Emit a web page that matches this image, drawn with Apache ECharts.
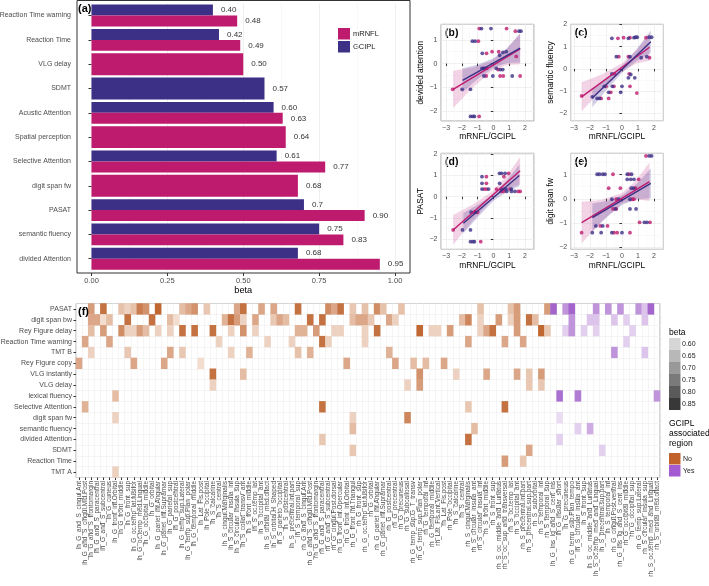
<!DOCTYPE html>
<html>
<head>
<meta charset="utf-8">
<script src="https://cdn.jsdelivr.net/npm/echarts@6.0.0/dist/echarts.min.js"></script>
<style>
  html, body { margin: 0; padding: 0; background: #fff; }
  #chart { width: 709px; height: 586px; }
</style>
</head>
<body>
<div id="chart"></div>
<script>
const FONT = '"Liberation Sans", Arial, sans-serif';
const C_MRNFL = '#be1a6e';
const C_GCIPL = '#3b2f86';
const AXIS_TXT = '#4d4d4d';

// ---- panel (a): beta per test ----
const tests = ['Reaction Time warning', 'Reaction Time', 'VLG delay', 'SDMT', 'Acustic Attention',
  'Spatial perception', 'Selective Attention', 'digit span fw', 'PASAT', 'semantic fluency', 'divided Attention'];
const betaGCIPL = [0.40, 0.42, null, 0.57, 0.60, null, 0.61, null, 0.70, 0.75, 0.68];
const betaMRNFL = [0.48, 0.49, 0.50, null, 0.63, 0.64, 0.77, 0.68, 0.90, 0.83, 0.95];
const labelGCIPL = ['0.40', '0.42', '', '0.57', '0.60', '', '0.61', '', '0.7', '0.75', '0.68'];
const labelMRNFL = ['0.48', '0.49', '0.50', '', '0.63', '0.64', '0.77', '0.68', '0.90', '0.83', '0.95'];
const betaTicks = [0, 0.25, 0.5, 0.75, 1];

// ---- panels (b)-(e): scatter points [x, y] ----
const ptsB_M = [[-2.58,-1.08],[-0.95,0.94],[-0.89,1.47],[0.84,1.47],[1.4,1.36],[-0.43,0.43],[-0.08,0.5],[0.34,0.5],[1.45,0.3],[-0.55,-0.2],[-0.42,-0.2],[0.3,-0.25],[-0.45,-0.52],[0.43,-0.52],[0.63,-0.52],[1.7,-0.52],[-0.9,-2.22]];
const ptsB_G = [[-1.98,-1.08],[-1.45,-1.08],[-1.33,0.94],[-1.16,0.94],[-0.75,1.47],[-0.15,1.47],[1.63,1.36],[1.75,1.36],[-0.7,0.43],[0.61,0.47],[0.82,0.5],[0.4,0.35],[-0.72,-0.2],[-0.6,-0.2],[0.19,-0.2],[0.45,-0.25],[0.6,-0.25],[-0.6,-0.52],[-0.03,-0.52],[1.2,-0.52],[-1.45,-2.22],[-1.3,-2.22],[-1.2,-2.22]];
const ptsC_M = [[-2.52,-1.21],[-1.3,-1.32],[-0.83,-1.32],[0.93,-1.08],[-1.0,-0.78],[-0.5,-0.78],[0.5,-0.78],[-0.47,-0.22],[0.45,-0.22],[-0.2,0.55],[0.4,0.55],[1.72,0.5],[-0.25,1.37],[0.1,1.4],[0.5,1.4],[1.5,1.4],[-0.7,-1.05]];
const ptsC_G = [[-1.85,-1.25],[-1.55,-1.32],[-1.4,-1.32],[-0.83,-1.05],[-1.1,-0.78],[-0.6,-0.78],[0.0,-0.78],[-0.08,-1.05],[-0.63,-0.22],[0.55,-0.25],[0.4,-0.4],[0.8,-0.4],[-0.35,0.55],[0.5,0.55],[1.2,0.5],[1.55,0.55],[-0.63,1.37],[0.4,1.37],[0.75,1.4],[0.85,1.42],[0.95,1.42],[1.7,1.42],[1.85,1.42]];
const ptsD_M = [[-2.55,-1.56],[-1.2,-0.73],[-1.0,-0.73],[-0.8,-2.11],[-0.44,0.94],[-0.44,0.63],[-0.58,0.36],[-0.44,0.36],[0.2,0.36],[0.65,0.36],[1.05,0.36],[0.67,0.94],[0.97,1.1],[0.5,0.25],[0.65,0.25],[1.58,0.25],[1.7,0.25]];
const ptsD_G = [[-1.96,-1.56],[-1.45,-1.56],[-1.4,-0.73],[-1.15,-0.73],[-1.45,-2.11],[-1.3,-2.11],[-1.2,-2.11],[-0.72,0.94],[-0.72,0.63],[-0.72,0.36],[-0.3,0.36],[0.5,0.36],[0.8,0.36],[1.15,0.36],[0.39,1.1],[0.53,1.1],[0.75,1.1],[0.4,0.63],[0.85,0.25],[1.15,0.25],[1.37,0.25]];
const ptsE_M = [[1.5,1.78],[-0.56,1.02],[0.45,1.02],[1.04,0.81],[-0.83,0.44],[-0.1,0.44],[0.85,0.44],[-0.35,-0.02],[0.65,-0.02],[0.75,-0.02],[-0.56,-0.42],[-0.35,-0.42],[1.1,-0.98],[1.75,-0.98],[-1.35,-1.13],[-0.9,-1.13],[-2.52,-1.41],[-0.5,-1.41],[-0.3,-1.41],[0.5,-1.41]];
const ptsE_G = [[1.7,1.78],[1.85,1.78],[-1.55,1.02],[-1.4,1.02],[-1.2,1.02],[-1.06,1.02],[0.33,1.02],[0.6,1.02],[0.33,0.81],[0.55,0.81],[0.75,0.81],[0.58,0.44],[0.72,0.44],[-0.63,-0.02],[-0.2,-0.02],[0.5,-0.02],[-0.41,-0.42],[0.5,-0.42],[0.88,-0.42],[1.4,-0.98],[1.56,-0.98],[-1.63,-1.13],[-1.2,-1.13],[-1.85,-1.41],[-1.3,-1.41],[-0.63,-1.41],[0.0,-1.41]];

// fitted lines (read endpoints) and confidence bands [x, lower, upper]
const lineB_M = [[-2.55,-1.08],[1.7,0.62]];
const lineB_G = [[-1.95,-0.70],[1.7,0.65]];
const bandB_M = [[-2.55,-1.86,-0.30],[-1.3,-1.0,-0.16],[-0.1,-0.32,0.12],[0.8,-0.07,0.59],[1.7,-0.03,1.27]];
const bandB_G = [[-1.95,-1.2,-0.2],[-1.0,-0.65,-0.05],[0,-0.18,0.22],[0.85,0.03,0.63],[1.7,0.05,1.25]];
const lineC_M = [[-2.52,-1.25],[1.72,0.97]];
const lineC_G = [[-1.85,-1.30],[1.8,1.22]];
const bandC_M = [[-2.52,-1.9,-0.6],[-1.3,-0.96,-0.26],[0,-0.11,0.25],[0.9,0.24,0.84],[1.72,0.37,1.57]];
const bandC_G = [[-1.85,-1.72,-0.88],[-0.9,-0.89,-0.39],[0.05,-0.135,0.165],[0.95,0.37,0.91],[1.8,0.72,1.72]];
const lineD_M = [[-2.55,-1.56],[1.7,1.22]];
const lineD_G = [[-1.9,-1.25],[1.65,1.0]];
const bandD_M = [[-2.55,-2.26,-0.86],[-1.3,-1.12,-0.36],[0,-0.06,0.28],[0.85,0.37,0.97],[1.7,0.57,1.87]];
const bandD_G = [[-1.9,-1.73,-0.77],[-0.95,-0.93,-0.37],[0,-0.2,0.12],[0.85,0.22,0.76],[1.65,0.5,1.5]];
const lineE_M = [[-2.52,-0.99],[1.72,0.71]];
const lineE_G = [[-1.85,-0.78],[1.8,0.64]];
const bandE_M = [[-2.52,-1.86,-0.12],[-1.3,-0.95,-0.05],[0,-0.2,0.24],[0.85,-0.02,0.74],[1.72,-0.09,1.51]];
const bandE_G = [[-1.85,-1.36,-0.2],[-0.9,-0.74,-0.08],[0.05,-0.24,0.16],[0.95,-0.02,0.64],[1.8,0.02,1.26]];

// ---- panel (f): heatmap ----
const heatRows = ['PASAT', 'digit span bw', 'Rey Figure delay', 'Reaction Time warning', 'TMT B', 'Rey Figure copy',
  'VLG instantly', 'VLG delay', 'lexical fluency', 'Selective Attention', 'digit span fw', 'semantic fluency',
  'divided Attention', 'SDMT', 'Reaction Time', 'TMT A'];
const regions = [
  'lh_G_and_S_cingul.Ant','lh_G_and_S_cingul.Mid.Post','lh_G_and_S_frontomargin','lh_G_and_S_paracentral','lh_G_and_S_subcentral','lh_G_cuneus','lh_G_front_inf.Orbital','lh_G_front_middle','lh_G_front_sup','lh_G_oc.temp_lat.fusifor','lh_G_oc.temp_med.Lingual','lh_G_occipital_middle','lh_G_orbital','lh_G_pariet_inf.Angular','lh_G_pariet_inf.Supramar','lh_G_parietal_sup','lh_G_postcentral','lh_G_temp_sup.Lateral','lh_G_temp_sup.Plan_polar','lh_G_temporal_middle','lh_Lat_Fis.post','lh_Pole_occipital','lh_S_calcarine','lh_S_central','lh_S_cingul.Marginalis','lh_S_circular_insula_inf','lh_S_circular_insula_sup','lh_S_collat_transv_ant','lh_S_front_middle','lh_S_oc.temp_lat','lh_S_occipital_ant','lh_S_orbital_med.olfact','lh_S_orbital.H_Shaped','lh_S_parieto_occipital','lh_S_postcentral','lh_S_precentral.inf.part','lh_S_temporal_sup',
  'rh_G_and_S_cingul.Ant','rh_G_and_S_cingul.Mid.Post','rh_G_and_S_frontomargin','rh_G_and_S_paracentral','rh_G_and_S_subcentral','rh_G_cingul.Post.dorsal','rh_G_front_inf.Opercular','rh_G_front_inf.Orbital','rh_G_front_inf.Triangul','rh_G_front_sup','rh_G_oc.temp_lat.fusifor','rh_G_orbital','rh_G_pariet_inf.Angular','rh_G_pariet_inf.Supramar','rh_G_postcentral','rh_G_precentral','rh_G_precuneus','rh_G_subcallosal','rh_G_temp_sup.G_T_transv','rh_G_temp_sup.Plan_polar','rh_G_temporal_inf','rh_G_temporal_middle','rh_Lat_Fis.ant.Vertical','rh_Lat_Fis.post','rh_Pole_occipital','rh_S_calcarine','rh_S_central','rh_S_cingul.Marginalis','rh_S_circular_insula_ant','rh_S_circular_insula_inf','rh_S_front_middle','rh_S_front_sup','rh_S_oc_middle_and_Lunatus','rh_S_oc_sup_and_transversal','rh_S_oc.temp_lat','rh_S_occipital_ant','rh_S_precentral.inf.part','rh_S_precentral.sup.part','rh_S_suborbital','rh_S_temporal_inf','rh_S_temporal_sup',
  'lh_G_Ins_lg_and_S_cent_ins','lh_G_insular_short','lh_G_precuneus','rh_G_temp_sup.Plan_tempo','lh_S_circular_insula_ant','lh_S_front_sup','lh_S_oc_middle_and_Lunatus','lh_S_oc.temp_med_and_Lingual','lh_S_precentral.sup.part','lh_S_temporal_inf','rh_G_cingul.Post.ventral','rh_G_Ins_lg_and_S_cent_ins','rh_G_occipital_middle','rh_G_occipital_sup','rh_G_temp_sup.Lateral','rh_S_circular_insula_sup','rh_S_oc.temp_med_and_Lingual','rh_S_orbital_med.olfact'
];
// [column, row, beta]
const cellsNo = [
  [2,0,.72],[4,0,.8],[7,0,.65],[8,0,.62],[9,0,.65],[10,0,.78],[11,0,.74],[13,0,.82],[17,0,.66],[18,0,.7],[19,0,.74],[21,0,.64],[26,0,.7],[27,0,.8],[30,0,.7],[32,0,.7],[36,0,.8],[41,0,.75],[42,0,.7],[43,0,.8],[45,0,.64],[47,0,.65],[49,0,.75],[50,0,.65],[53,0,.65],[66,0,.65],[71,0,.65],[72,0,.72],[77,0,.72],
  [2,1,.7],[3,1,.7],[4,1,.6],[5,1,.66],[8,1,.8],[12,1,.8],[15,1,.66],[16,1,.6],[24,1,.68],[25,1,.8],[26,1,.72],[27,1,.62],[29,1,.7],[32,1,.64],[33,1,.7],[34,1,.66],[38,1,.8],[40,1,.8],[45,1,.66],[46,1,.7],[47,1,.7],[48,1,.64],[51,1,.7],[52,1,.62],[63,1,.66],[64,1,.76],[66,1,.62],[69,1,.72],[71,1,.62],[72,1,.72],[74,1,.8],[75,1,.66],
  [2,2,.66],[4,2,.72],[7,2,.75],[8,2,.62],[9,2,.62],[10,2,.72],[11,2,.66],[13,2,.62],[15,2,.62],[17,2,.8],[19,2,.8],[22,2,.8],[25,2,.62],[27,2,.74],[29,2,.62],[36,2,.68],[37,2,.68],[39,2,.72],[42,2,.62],[43,2,.62],[47,2,.62],[49,2,.8],[56,2,.82],[58,2,.62],[59,2,.62],[61,2,.72],[66,2,.62],[67,2,.7],[68,2,.8],[72,2,.72],[76,2,.82],[77,2,.64],
  [1,3,.7],[5,3,.7],[23,3,.62],[31,3,.62],[35,3,.62],[40,3,.8],[41,3,.62],[47,3,.62],[64,3,.7],[70,3,.7],[73,3,.7],
  [2,4,.62],[8,4,.64],[15,4,.7],[17,4,.64],[25,4,.62],[28,4,.68],[36,4,.65],[38,4,.68],[51,4,.68],
  [0,5,.7],[9,5,.7],[14,5,.7],[20,5,.6],[44,5,.7],[52,5,.7],[55,5,.66],[57,5,.66],[60,5,.7],
  [22,6,.8],[27,6,.66],[56,6,.74],[62,6,.62],[67,6,.7],[72,6,.7],[74,6,.64],[76,6,.72],
  [22,7,.62],[54,7,.62],[56,7,.72],[74,7,.64],[76,7,.64],
  [6,8,.66],
  [1,9,.68],[40,9,.8],[64,9,.64],[70,9,.8],
  [6,10,.62],[45,10,.62],[54,10,.76],
  [45,11,.66],[65,11,.66],
  [40,12,.64],[64,12,.8],
  [45,13,.64],[74,13,.7],
  [70,14,.72],[73,14,.64],
  [6,15,.62]
];
const cellsYes = [
  [78,0,.8],[80,0,.72],[81,0,.8],[85,0,.72],[87,0,.72],[89,0,.72],[92,0,.72],[93,0,.64],[94,0,.8],
  [81,1,.72],[84,1,.64],[85,1,.64],[88,1,.64],[90,1,.62],[93,1,.64],
  [80,2,.62],[81,2,.72],[83,2,.62],[85,2,.62],[91,2,.62],
  [90,3,.62],
  [88,4,.72],[93,4,.64],
  [79,8,.78],[82,8,.76],[95,8,.72],
  [79,10,.6],
  [82,11,.62],[84,11,.68],
  [79,12,.62],
  [86,13,.62]
];
const betaLegend = ['0.60', '0.65', '0.70', '0.75', '0.80', '0.85'];
const betaLegendGray = ['#d6d6d6', '#b8b8b8', '#999999', '#7a7a7a', '#5a5a5a', '#383838'];

// ---- layout ----
const scatterPanels = [
  { tag: '(b)', yName: 'devided attention', left: 441, top: 24.3, w: 93, h: 96.7, x: [-3.32, 2.58], y: [-2.41, 1.65], pM: ptsB_M, pG: ptsB_G, lM: lineB_M, lG: lineB_G, bM: bandB_M, bG: bandB_G },
  { tag: '(c)', yName: 'semantic fluency', left: 570.7, top: 24.3, w: 92.6, h: 96.4, x: [-3.2, 2.58], y: [-2.32, 2.0], pM: ptsC_M, pG: ptsC_G, lM: lineC_M, lG: lineC_G, bM: bandC_M, bG: bandC_G },
  { tag: '(d)', yName: 'PASAT', left: 441, top: 153.3, w: 93, h: 96, x: [-3.32, 2.58], y: [-2.47, 2.04], pM: ptsD_M, pG: ptsD_G, lM: lineD_M, lG: lineD_G, bM: bandD_M, bG: bandD_G },
  { tag: '(e)', yName: 'digit span fw', left: 570.7, top: 153.3, w: 92.6, h: 96, x: [-3.2, 2.58], y: [-2.1, 1.89], pM: ptsE_M, pG: ptsE_G, lM: lineE_M, lG: lineE_G, bM: bandE_M, bG: bandE_G }
];

const grids = [], xAxes = [], yAxes = [], series = [], graphics = [];
const txt = (size, color) => ({ fontFamily: FONT, fontSize: size, color: color || AXIS_TXT });

// panel (a)
grids.push({ left: 91.5, top: 3.4, width: 303.5, height: 267.5, outerBoundsMode: 'none' });
xAxes.push({
  gridIndex: 0, type: 'value', min: 0, max: 1, interval: 0.25, offset: 2.1,
  name: 'beta', nameLocation: 'middle', nameGap: 13, nameTextStyle: txt(9.2, '#000'),
  axisLine: { show: false },
  axisTick: { show: true, length: 3, lineStyle: { color: '#333' } },
  axisLabel: Object.assign(txt(7.5), { margin: 4, formatter: v => betaTicks.includes(v) ? v.toFixed(2) : '' }),
  splitLine: { show: true, lineStyle: { color: '#ebebeb', width: 0.8 } },
  minorTick: { show: false, splitNumber: 2 },
  minorSplitLine: { show: true, lineStyle: { color: '#f4f4f4', width: 0.6 } }
});
yAxes.push({
  gridIndex: 0, type: 'category', data: tests, inverse: true, offset: 14.5,
  axisLine: { show: false },
  axisTick: { show: true, length: 3, alignWithLabel: true, lineStyle: { color: '#333' } },
  axisLabel: Object.assign(txt(7), { margin: 6, interval: 0 }),
  splitLine: { show: false }
});

function barRender(labels, color, upper) {
  return function (params, api) {
    const v = api.value(0), cat = api.value(1);
    const paired = betaGCIPL[cat] != null && betaMRNFL[cat] != null;
    const p0 = api.coord([0, cat]);
    const p1 = api.coord([v, cat]);
    const band = api.size([0, 1])[1] * 0.9;
    const h = paired ? band / 2 : band;
    const y0 = paired ? (upper ? p0[1] - band / 2 : p0[1]) : p0[1] - band / 2;
    return {
      type: 'group',
      children: [
        { type: 'rect', shape: { x: p0[0], y: y0, width: p1[0] - p0[0], height: h }, style: { fill: color } },
        { type: 'text', x: p1[0] + 8, y: y0 + h / 2,
          style: { text: labels[cat], fill: '#333', font: '8px ' + FONT, verticalAlign: 'middle', align: 'left' } }
      ]
    };
  };
}
series.push({
  type: 'custom', name: 'GCIPL', xAxisIndex: 0, yAxisIndex: 0, silent: true,
  encode: { x: 0, y: 1 },
  data: betaGCIPL.map((v, i) => v == null ? null : [v, i]).filter(d => d),
  renderItem: barRender(labelGCIPL, C_GCIPL, true)
});
series.push({
  type: 'custom', name: 'mRNFL', xAxisIndex: 0, yAxisIndex: 0, silent: true,
  encode: { x: 0, y: 1 },
  data: betaMRNFL.map((v, i) => v == null ? null : [v, i]).filter(d => d),
  renderItem: barRender(labelMRNFL, C_MRNFL, false)
});

// scatter panels
function bandRender(band, fill) {
  return function (params, api) {
    const up = band.map(b => api.coord([b[0], b[2]]));
    const lo = band.slice().reverse().map(b => api.coord([b[0], b[1]]));
    return { type: 'polygon', shape: { points: up.concat(lo) }, style: { fill: fill } };
  };
}
const minus = v => String(v).replace('-', '\u2212');
scatterPanels.forEach((p, k) => {
  const gi = k + 1;
  grids.push({ left: p.left, top: p.top, width: p.w, height: p.h, show: true, borderColor: '#8c8c8c', borderWidth: 0.8, backgroundColor: 'transparent', outerBoundsMode: 'none' });
  xAxes.push({
    gridIndex: gi, type: 'value', min: p.x[0], max: p.x[1], splitNumber: 5,
    name: 'mRNFL/GCIPL', nameLocation: 'middle', nameGap: 12, nameTextStyle: txt(8.4, '#000'),
    axisLine: { show: false },
    axisTick: { show: true, length: 2.5, lineStyle: { color: '#333' } },
    axisLabel: Object.assign(txt(7), { margin: 3.5, showMinLabel: false, showMaxLabel: false, formatter: minus }),
    splitLine: { show: true, lineStyle: { color: '#e8e8e8', width: 0.6 } },
    minorTick: { show: false, splitNumber: 2 },
    minorSplitLine: { show: true, lineStyle: { color: '#f4f4f4', width: 0.5 } }
  });
  yAxes.push({
    gridIndex: gi, type: 'value', min: p.y[0], max: p.y[1], splitNumber: 4,
    name: p.yName, nameLocation: 'middle', nameGap: 16, nameRotate: 90, nameTextStyle: txt(8.4, '#000'),
    axisLine: { show: false },
    axisTick: { show: true, length: 2.5, lineStyle: { color: '#333' } },
    axisLabel: Object.assign(txt(7), { margin: 3.5, showMinLabel: false, showMaxLabel: p.y[1] === 2.0, formatter: minus }),
    splitLine: { show: true, lineStyle: { color: '#e8e8e8', width: 0.6 } },
    minorTick: { show: false, splitNumber: 2 },
    minorSplitLine: { show: true, lineStyle: { color: '#f4f4f4', width: 0.5 } }
  });
  series.push({ type: 'custom', xAxisIndex: gi, yAxisIndex: gi, clip: true, silent: true, data: [[0, 0]], renderItem: bandRender(p.bM, 'rgba(196, 60, 140, 0.22)') });
  series.push({ type: 'custom', xAxisIndex: gi, yAxisIndex: gi, clip: true, silent: true, data: [[0, 0]], renderItem: bandRender(p.bG, 'rgba(80, 60, 150, 0.25)') });
  series.push({ type: 'scatter', xAxisIndex: gi, yAxisIndex: gi, data: p.pM, symbolSize: 3.8, itemStyle: { color: C_MRNFL }, silent: true });
  series.push({ type: 'scatter', xAxisIndex: gi, yAxisIndex: gi, data: p.pG, symbolSize: 3.8, itemStyle: { color: C_GCIPL }, silent: true });
  series.push({ type: 'line', xAxisIndex: gi, yAxisIndex: gi, data: p.lM, showSymbol: false, lineStyle: { color: C_MRNFL, width: 1.4 }, silent: true });
  series.push({ type: 'line', xAxisIndex: gi, yAxisIndex: gi, data: p.lG, showSymbol: false, lineStyle: { color: C_GCIPL, width: 1.4 }, silent: true });
  graphics.push({ type: 'text', x: p.left + 4, y: p.top + 9, style: { text: p.tag, font: 'bold 10.5px ' + FONT, fill: '#000', verticalAlign: 'middle' } });
});

// panel (f) heatmap
grids.push({ left: 76, top: 303.5, width: 584, height: 174, show: true, borderColor: '#999', borderWidth: 0.8, backgroundColor: 'transparent', outerBoundsMode: 'none' });
xAxes.push({
  gridIndex: 5, type: 'category', data: regions,
  axisLine: { show: false },
  axisTick: { show: true, length: 2.5, alignWithLabel: true, interval: 0, lineStyle: { color: '#333' } },
  axisLabel: Object.assign(txt(6.5), { rotate: 90, interval: 0, margin: 3.5 }),
  splitLine: { show: true, interval: 0, lineStyle: { color: '#eeeeee', width: 0.6 } }
});
yAxes.push({
  gridIndex: 5, type: 'category', data: heatRows, inverse: true,
  axisLine: { show: false },
  axisTick: { show: true, length: 2.5, alignWithLabel: true, interval: 0, lineStyle: { color: '#333' } },
  axisLabel: Object.assign(txt(7), { interval: 0, margin: 4 }),
  splitLine: { show: true, interval: 0, lineStyle: { color: '#eeeeee', width: 0.6 } }
});
const heatNoIndex = series.length;
series.push({ type: 'heatmap', xAxisIndex: 5, yAxisIndex: 5, data: cellsNo, silent: true, itemStyle: { borderWidth: 0 } });
const heatYesIndex = series.length;
series.push({ type: 'heatmap', xAxisIndex: 5, yAxisIndex: 5, data: cellsYes, silent: true, itemStyle: { borderWidth: 0 } });

// static annotations: panel (a) frame/legend, tags, heatmap legends
graphics.push({ type: 'rect', shape: { x: 77, y: 0.5, width: 333, height: 272.5 }, style: { fill: 'none', stroke: '#333', lineWidth: 1 }, z: 10 });
graphics.push({ type: 'text', x: 78, y: 8.5, style: { text: '(a)', font: 'bold 11px ' + FONT, fill: '#000', verticalAlign: 'middle' }, z: 10 });
graphics.push({ type: 'rect', shape: { x: 338, y: 28, width: 12, height: 11.5 }, style: { fill: C_MRNFL } });
graphics.push({ type: 'rect', shape: { x: 338, y: 41, width: 12, height: 11.5 }, style: { fill: C_GCIPL } });
graphics.push({ type: 'text', x: 353, y: 33.8, style: { text: 'mRNFL', font: '7.5px ' + FONT, fill: '#222', verticalAlign: 'middle' } });
graphics.push({ type: 'text', x: 353, y: 46.8, style: { text: 'GCIPL', font: '7.5px ' + FONT, fill: '#222', verticalAlign: 'middle' } });
graphics.push({ type: 'text', x: 78, y: 311.5, style: { text: '(f)', font: 'bold 11px ' + FONT, fill: '#000', verticalAlign: 'middle' }, z: 10 });

graphics.push({ type: 'text', x: 669, y: 332.5, style: { text: 'beta', font: '8.5px ' + FONT, fill: '#000', verticalAlign: 'middle' } });
betaLegend.forEach((lab, i) => {
  graphics.push({ type: 'rect', shape: { x: 669, y: 338 + i * 12, width: 11.5, height: 12 }, style: { fill: betaLegendGray[i] } });
  graphics.push({ type: 'text', x: 682, y: 344 + i * 12, style: { text: lab, font: '7px ' + FONT, fill: '#222', verticalAlign: 'middle' } });
});
['GCIPL', 'associated', 'region'].forEach((t, i) => {
  graphics.push({ type: 'text', x: 669, y: 423.5 + i * 10, style: { text: t, font: '8.5px ' + FONT, fill: '#000', verticalAlign: 'middle' } });
});
graphics.push({ type: 'rect', shape: { x: 669, y: 453, width: 11.5, height: 11.5 }, style: { fill: '#c0622a' } });
graphics.push({ type: 'rect', shape: { x: 669, y: 465, width: 11.5, height: 11.5 }, style: { fill: '#a45ad0' } });
graphics.push({ type: 'text', x: 683, y: 458.8, style: { text: 'No', font: '7px ' + FONT, fill: '#222', verticalAlign: 'middle' } });
graphics.push({ type: 'text', x: 683, y: 470.8, style: { text: 'Yes', font: '7px ' + FONT, fill: '#222', verticalAlign: 'middle' } });

const chart = echarts.init(document.getElementById('chart'));
chart.setOption({
  animation: false,
  backgroundColor: '#fff',
  textStyle: { fontFamily: FONT },
  grid: grids,
  xAxis: xAxes,
  yAxis: yAxes,
  visualMap: [
    { show: false, seriesIndex: heatNoIndex, dimension: 2, min: 0.6, max: 0.85, inRange: { color: ['#f2ddcf', '#b9571d'] } },
    { show: false, seriesIndex: heatYesIndex, dimension: 2, min: 0.6, max: 0.85, inRange: { color: ['#eadcf3', '#9146c2'] } }
  ],
  series: series,
  graphic: graphics
});
</script>
</body>
</html>
